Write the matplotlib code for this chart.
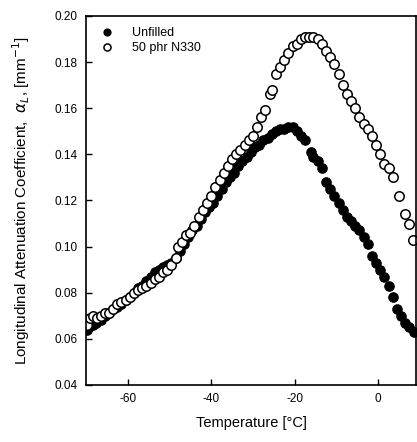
import numpy as np
import matplotlib
matplotlib.use('Agg')
import matplotlib.pyplot as plt

plt.rcParams['font.family'] = ['Liberation Sans', 'DejaVu Sans']

# Unfilled sample (filled markers)
temp_unfilled = [-69.8, -69.2, -68.4, -67.5, -66.5, -65.5, -64.5, -63.5, -62.5, -61.5,
                 -60.5, -59.5, -58.5, -57.5, -56.5, -55.5, -54.5, -53.5, -52.5, -51.5,
                 -50.5, -49.5, -48.5, -47.5, -46.5, -45.5, -44.5, -43.5, -42.5, -41.5,
                 -40.5, -39.5, -38.5, -37.5, -36.5, -35.5, -34.5, -33.5, -32.5, -31.5,
                 -30.5, -29.5, -28.5, -27.5, -26.5, -25.5, -24.5, -23.5, -22.5, -21.5,
                 -20.5, -19.5, -18.5, -17.5, -16.2, -15.5, -14.5, -13.5, -12.5, -11.5,
                 -10.5, -9.5, -8.5, -7.5, -6.5, -5.5, -4.5, -3.5, -2.5, -1.5,
                 -0.5, 0.5, 1.5, 2.5, 3.5, 4.5, 5.5, 6.5, 7.5, 8.5]
alpha_unfilled = [0.064, 0.065, 0.066, 0.067, 0.068, 0.070, 0.071, 0.073, 0.074, 0.075,
                  0.077, 0.078, 0.080, 0.082, 0.083, 0.085, 0.087, 0.089, 0.090, 0.091,
                  0.092, 0.093, 0.095, 0.098, 0.101, 0.104, 0.107, 0.109, 0.112, 0.115,
                  0.117, 0.119, 0.122, 0.125, 0.128, 0.130, 0.132, 0.135, 0.137, 0.139,
                  0.141, 0.143, 0.144, 0.146, 0.147, 0.149, 0.150, 0.151, 0.151, 0.152,
                  0.152, 0.150, 0.148, 0.146, 0.141, 0.139, 0.137, 0.134, 0.128, 0.125,
                  0.122, 0.119, 0.116, 0.113, 0.111, 0.109, 0.107, 0.104, 0.101, 0.096,
                  0.093, 0.090, 0.087, 0.083, 0.078, 0.073, 0.070, 0.067, 0.065, 0.063]

# 50 phr N330 (open markers)
temp_n330 = [-69.8, -69.0, -68.2, -67.4, -66.5, -65.5, -64.5, -63.5, -62.5, -61.5,
             -60.5, -59.5, -58.5, -57.5, -56.5, -55.5, -54.5, -53.5, -52.5, -51.5,
             -50.5, -49.5, -48.5, -48.0, -47.0, -46.0, -45.0, -44.0, -43.0, -42.0,
             -41.0, -40.0, -39.0, -38.0, -37.0, -36.0, -35.0, -34.0, -33.0, -32.0,
             -31.0, -30.0, -29.0, -28.0, -27.0, -26.0, -25.5, -24.5, -23.5, -22.5,
             -21.5, -20.5, -19.5, -18.5, -17.5, -16.5, -15.5, -14.5, -13.5, -12.5,
             -11.5, -10.5, -9.5, -8.5, -7.5, -6.5, -5.5, -4.5, -3.5, -2.5,
             -1.5, -0.5, 0.5, 1.5, 2.5, 3.5, 5.0, 6.5, 7.5, 8.3]
alpha_n330 = [0.066, 0.069, 0.070, 0.069, 0.070, 0.071, 0.071, 0.073, 0.075, 0.076,
              0.077, 0.078, 0.080, 0.081, 0.082, 0.083, 0.084, 0.086, 0.087, 0.089,
              0.090, 0.092, 0.095, 0.100, 0.102, 0.105, 0.106, 0.109, 0.113, 0.116,
              0.119, 0.122, 0.126, 0.129, 0.132, 0.135, 0.138, 0.140, 0.142, 0.144,
              0.146, 0.148, 0.152, 0.156, 0.159, 0.166, 0.168, 0.175, 0.178, 0.181,
              0.184, 0.187, 0.188, 0.190, 0.191, 0.191, 0.191, 0.190, 0.188, 0.185,
              0.182, 0.179, 0.175, 0.170, 0.166, 0.163, 0.160, 0.156, 0.153, 0.151,
              0.148, 0.144, 0.140, 0.136, 0.134, 0.130, 0.122, 0.114, 0.110, 0.103]

xticks = [-60, -40, -20, 0]
yticks = [0.04, 0.06, 0.08, 0.10, 0.12, 0.14, 0.16, 0.18, 0.20]

fig = plt.figure(figsize=(4.17, 4.42), dpi=100)
ax = fig.add_axes([0.206, 0.129, 0.792, 0.835])

ax.plot(temp_unfilled, alpha_unfilled, 'o', color='black', markersize=6.8,
        markeredgewidth=0.8, label='Unfilled', linestyle='none')
ax.plot(temp_n330, alpha_n330, 'o', markerfacecolor='white', markeredgecolor='black',
        markersize=6.8, markeredgewidth=1.1, label='50 phr N330', linestyle='none')

ax.set_xlim(-70, 9.1)
ax.set_ylim(0.04, 0.20)
ax.set_xticks(xticks)
ax.set_xticklabels([str(t) for t in xticks])
ax.set_yticks(yticks)
ax.set_yticklabels(['%.2f' % v for v in yticks])
ax.tick_params(direction='in', length=4, width=1, labelsize=8.5, pad=6)
for s in ax.spines.values():
    s.set_linewidth(1.2)

ax.set_xlabel('Temperature [°C]', fontsize=10.5, labelpad=8)
ax.set_ylabel(r'Longitudinal Attenuation Coefficient,  $\alpha_L$, [mm$^{-1}$]',
              fontsize=11, labelpad=16)

ax.legend(loc='upper left', frameon=False, fontsize=9, markerscale=0.75,
          handletextpad=1.2, handlelength=1.6, borderaxespad=0.5, labelspacing=0.25)

fig.savefig('out.png', dpi=100)
